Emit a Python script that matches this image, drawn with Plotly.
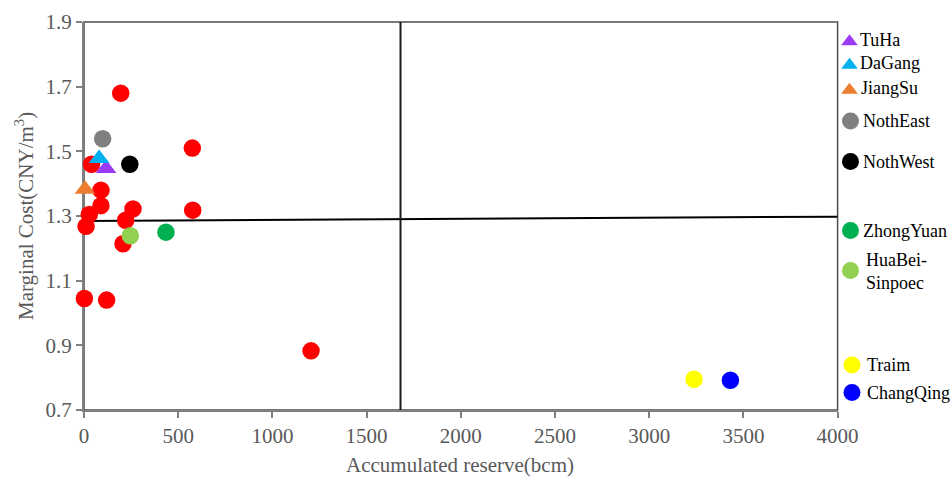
import plotly.graph_objects as go

# ---------------- data ----------------
red_x = [195, 575, 40, 90, 90, 260, 577, 28, 221, 11, 207, 2, 120, 1205]
red_y = [1.68, 1.51, 1.46, 1.38, 1.332, 1.322, 1.318, 1.305, 1.287, 1.268, 1.214, 1.045, 1.04, 0.883]

named_fields = ["TuHa", "DaGang", "JiangSu", "NothEast", "NothWest",
                "ZhongYuan", "HuaBei-<br>Sinpoec", "Traim", "ChangQing"]
named_x = [117, 80, 5, 99, 243, 435, 246, 3238, 3431]
named_y = [1.447, 1.478, 1.383, 1.539, 1.46, 1.25, 1.239, 0.795, 0.792]
named_colors = ["#9B3BF5", "#00B0F0", "#ED7D31", "#808080", "#000000",
                "#00B050", "#92D050", "#FFFF00", "#0000FF"]
named_symbols = ["triangle-up", "triangle-up", "triangle-up", "circle", "circle",
                 "circle", "circle", "circle", "circle"]

# reference lines
hline_x = [0, 4000]
hline_y = [1.2845, 1.298]
vline_x = [1680, 1680]
vline_y = [0.7, 1.9]

x_ticks = [0, 500, 1000, 1500, 2000, 2500, 3000, 3500, 4000]
y_ticks = [0.7, 0.9, 1.1, 1.3, 1.5, 1.7, 1.9]

x_title = "Accumulated reserve(bcm)"
y_title = "Marginal Cost(CNY/m<sup>3</sup>)"

# ---------------- layout geometry (pixels) ----------------
W, H = 952, 478
L, T, B = 84, 22, 68
plot_right = 837.6
plot_bottom = H - B
PW = W - L
PH = H - T - B
dom_end = (plot_right - L) / PW

# legend layout (pixel positions in the right margin)
leg_marker_x = [849.5, 849.5, 849.5, 850.5, 850.5, 850.5, 850.5, 852, 852]
leg_text_x = [858, 858, 859, 861, 861, 861, 864, 865, 865]
leg_y = [41.5, 65, 90, 121, 161.5, 230.5, 270.5, 365, 392.5]
leg_text_y = [40, 63, 88, 121, 161.5, 230.5, 271, 365, 392.5]

FONT = "Liberation Serif"
GRAY = "#595959"

fig = go.Figure()

fig.add_trace(go.Scatter(x=hline_x, y=hline_y, mode="lines",
                         line=dict(color="#000000", width=2), hoverinfo="skip"))
fig.add_trace(go.Scatter(x=vline_x, y=vline_y, mode="lines",
                         line=dict(color="#1a1a1a", width=2), hoverinfo="skip"))

fig.add_trace(go.Scatter(x=red_x, y=red_y, mode="markers", name="Other",
                         cliponaxis=False,
                         marker=dict(color="#FF0000", size=17.5, symbol="circle",
                                     line=dict(width=0))))

for nm, x, y, c, s in zip(named_fields, named_x, named_y, named_colors, named_symbols):
    fig.add_trace(go.Scatter(x=[x], y=[y], mode="markers", name=nm,
                             cliponaxis=False,
                             marker=dict(color=c, size=18 if s != "circle" else 17.5,
                                         symbol=s, line=dict(width=0))))

# legend markers on an auxiliary pixel-based axis pair in the right margin
for nm, mx, my, c, s in zip(named_fields, leg_marker_x, leg_y, named_colors, named_symbols):
    fig.add_trace(go.Scatter(x=[mx], y=[my], mode="markers", xaxis="x2", yaxis="y2",
                             cliponaxis=False,
                             marker=dict(color=c, size=14.5 if s != "circle" else 17,
                                         symbol=s, line=dict(width=0)),
                             hoverinfo="skip"))

annotations = []
for nm, tx, ty in zip(named_fields, leg_text_x, leg_text_y):
    annotations.append(dict(x=tx, y=ty, xref="x2", yref="y2", text=nm,
                            showarrow=False, xanchor="left", yanchor="middle",
                            align="left",
                            font=dict(family=FONT, size=18, color="#000000")))

# axis titles as annotations (pixel-placed)
annotations.append(dict(x=(460 - L) / PW, y=(plot_bottom - 465) / PH,
                        xref="paper", yref="paper", text=x_title, showarrow=False,
                        xanchor="center", yanchor="middle",
                        font=dict(family=FONT, size=21, color=GRAY)))
annotations.append(dict(x=(24 - L) / PW, y=(plot_bottom - 216) / PH,
                        xref="paper", yref="paper", text=y_title, showarrow=False,
                        textangle=-90, xanchor="center", yanchor="middle",
                        font=dict(family=FONT, size=21, color=GRAY)))

fig.update_layout(
    width=W, height=H,
    margin=dict(l=L, r=0, t=T, b=B, autoexpand=False),
    paper_bgcolor="white", plot_bgcolor="white",
    showlegend=False,
    font=dict(family=FONT, size=21, color=GRAY),
    xaxis=dict(domain=[0, dom_end], range=[0, 4000], tickvals=x_ticks,
               showgrid=False, zeroline=False, showline=True, automargin=False,
               layer="below traces",
               linecolor="#808080", linewidth=2, ticks="outside",
               ticklen=6, tickwidth=1.5, tickcolor="#808080",
               tickfont=dict(family=FONT, size=21, color=GRAY)),
    yaxis=dict(range=[0.7, 1.9], tickvals=y_ticks, tickformat=".1f",
               showgrid=False, zeroline=False, showline=True, automargin=False,
               layer="below traces",
               linecolor="#808080", linewidth=2, ticks="outside",
               ticklen=6, tickwidth=1.5, tickcolor="#808080",
               tickfont=dict(family=FONT, size=21, color=GRAY)),
    xaxis2=dict(domain=[dom_end, 1], range=[plot_right, W], visible=False,
                fixedrange=True, automargin=False),
    yaxis2=dict(anchor="x2", domain=[0, 1], range=[plot_bottom, T], visible=False,
                fixedrange=True, automargin=False),
    shapes=[dict(type="rect", xref="paper", yref="paper", x0=0, x1=dom_end,
                 y0=0, y1=1, line=dict(color="#4d4d4d", width=1.5),
                 layer="below")],
    annotations=annotations,
)

fig.write_html("out.html",
               config={"displayModeBar": False},
               post_script="document.body.style.margin='0';document.body.style.overflow='hidden';")
